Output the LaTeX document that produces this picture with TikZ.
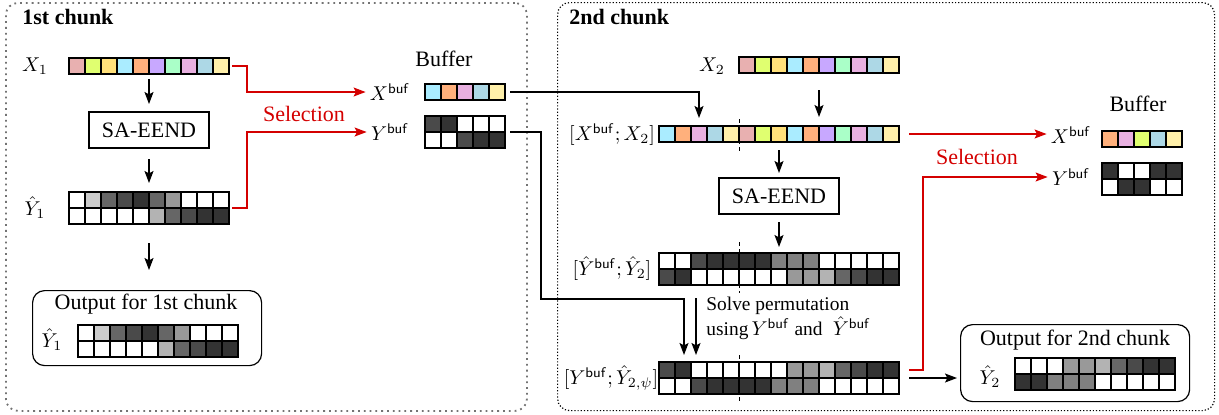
\documentclass[tikz,border=0pt]{standalone}
\usepackage[no-math]{fontspec}
\setmainfont{Liberation Serif}
\usetikzlibrary{arrows.meta,calc}
\definecolor{pk}{HTML}{E8B0B0}
\definecolor{li}{HTML}{E0FF70}
\definecolor{ye}{HTML}{FFE07A}
\definecolor{cy}{HTML}{AAECFF}
\definecolor{or}{HTML}{FFB07C}
\definecolor{pu}{HTML}{C8A8FF}
\definecolor{mi}{HTML}{AAFFC8}
\definecolor{ll}{HTML}{E8B0E0}
\definecolor{lb}{HTML}{ADD8E6}
\definecolor{ly}{HTML}{FFF0AA}
\definecolor{gA}{HTML}{4A4A4A}
\definecolor{gB}{HTML}{333333}
\definecolor{gC}{HTML}{808080}
\definecolor{gD}{HTML}{999999}
\definecolor{gE}{HTML}{B3B3B3}
\definecolor{gF}{HTML}{666666}
\definecolor{gG}{HTML}{CCCCCC}
\definecolor{selred}{HTML}{D40000}
\newcommand\cellrow[3]{\foreach \cellcol [count=\i from 0] in {#3} {\filldraw[cellst, fill=\cellcol] ({#1+16*\i},#2) rectangle ++(16,16);}}
\newcommand\cellstrip[5]{%
  \node[holder, minimum width=#4*8pt, minimum height=8pt, anchor=north west] (#1) at (#2,#3) {};
  \cellrow{#2}{#3}{#5}}
\newcommand\cellmat[6]{%
  \node[holder, minimum width=#4*8pt, minimum height=16pt, anchor=north west] (#1) at (#2,#3) {};
  \cellrow{#2}{#3}{#5}\cellrow{#2}{#3+16}{#6}}
\newcommand\bufsup{\mathsf{buf}}
\begin{document}
\begin{tikzpicture}[x=0.5pt,y=-0.5pt,
  cellst/.style={draw=black,line width=0.6pt},
  holder/.style={inner sep=0pt,outer sep=0pt,draw=none},
  txt/.style={font=\fontsize{11}{13}\selectfont},
  lbl/.style={font=\fontsize{10}{12}\selectfont, inner sep=0pt},
  model/.style={draw, line width=1pt, minimum width=60pt, minimum height=18pt, font=\fontsize{11}{13}\selectfont, inner sep=0pt},
  outbox/.style={draw, rounded corners=6pt, line width=0.6pt, inner sep=0pt},
  conn/.style={line width=0.6pt},
  arr/.style={conn, -{Stealth[length=6pt,width=4.5pt,inset=1.2pt]}},
  selarr/.style={arr, draw=selred},
  sepline/.style={line width=0.5pt, dash pattern=on 2pt off 1.5pt},
  chunkA/.style={draw=black!55, line width=0.9pt, dotted, rounded corners=6pt, inner sep=0pt},
  chunkB/.style={draw=black, line width=0.6pt, densely dotted, rounded corners=6pt, inner sep=0pt},
  title/.style={font=\bfseries\fontsize{11}{13}\selectfont, anchor=west, inner sep=0pt},
]
\useasboundingbox (0,0) rectangle (1219,414);
% chunk frames
\node[chunkA, minimum width=260.5pt, minimum height=204pt, anchor=north west] (ch1) at (5,2) {};
\node[chunkB, minimum width=328.5pt, minimum height=204pt, anchor=north west] (ch2) at (557,2) {};
\node[title] (t1) at (22,17) {1st chunk};
\node[title] (t2) at (569,17) {2nd chunk};

% ---------- 1st chunk ----------
\node[lbl] (x1L) at (35,66) {$X_1$};
\cellstrip{x1}{69}{58}{10}{pk,li,ye,cy,or,pu,mi,ll,lb,ly}
\node[model] (sa1) at (149,130) {SA-EEND};
\node[lbl] (y1L) at (35,208) {$\hat{Y}_1$};
\cellmat{y1}{69}{192}{10}{white,gG,gF,gA,gB,gF,gD,white,white,white}{white,white,white,white,white,gE,gF,gA,gB,gB}
\node[outbox, minimum width=114.5pt, minimum height=37.5pt, anchor=north west] (out1) at (32,290) {};
\node[txt] (out1t) at (146,304) {Output for 1st chunk};
\node[lbl] (o1L) at (52,340) {$\hat{Y}_1$};
\cellmat{o1}{78}{325}{10}{white,gG,gF,gA,gB,gF,gD,white,white,white}{white,white,white,white,white,gE,gF,gA,gB,gB}

\draw[arr, shorten <=2.5pt, shorten >=3.5pt] (x1.south) -- (x1.south |- sa1.north);
\draw[arr, shorten <=5pt, shorten >=4.5pt] (sa1.south) -- (sa1.south |- y1.north);
\draw[arr, shorten <=9.5pt, shorten >=10pt] (y1.south) -- (y1.south |- out1.north);

% buffer 1
\node[txt] (buf1) at (444,59) {Buffer};
\node[lbl] (xbL) at (390,92) {$X^{\bufsup}$};
\node[lbl] (ybL) at (390,132) {$Y^{\bufsup}$};
\cellstrip{xb1}{425}{84}{5}{cy,or,ll,lb,ly}
\cellmat{yb1}{425}{116}{5}{gA,gB,white,white,white}{white,white,gA,gB,gB}
\node[txt, text=selred] (sel1) at (304,114) {Selection};
\draw[selarr, shorten >=2pt] ([xshift=1.5pt]x1.east) -- ++(15,0) |- (xbL.west);
\draw[selarr, shorten >=2pt] ([xshift=1.5pt]y1.east) -- ++(15,0) |- (ybL.west);

% ---------- 2nd chunk ----------
\node[lbl] (x2L) at (712,66) {$X_2$};
\cellstrip{x2}{739}{57}{10}{pk,li,ye,cy,or,pu,mi,ll,lb,ly}
\node[lbl] (xxL) at (612,135) {$[X^{\bufsup};X_2]$};
\cellstrip{xx2}{659}{126}{15}{cy,or,ll,lb,ly,pk,li,ye,cy,or,pu,mi,ll,lb,ly}
\node[model] (sa2) at (779,196) {SA-EEND};
\node[lbl] (yhL) at (612,269) {$[\hat{Y}^{\bufsup};\hat{Y}_2]$};
\cellmat{yh2}{659}{253}{15}{white,white,gA,gB,gB,gB,gB,gC,gC,gC,white,white,white,white,white}{gA,gB,white,white,white,white,white,white,gD,gD,gE,gF,gA,gB,gB}
\node[lbl] (ypL) at (611,378) {$[Y^{\bufsup};\hat{Y}_{2,\psi}]$};
\cellmat{yp}{659}{362}{15}{gA,gB,white,white,white,white,white,white,gD,gD,gE,gF,gA,gB,gB}{white,white,gA,gB,gB,gB,gB,gC,gC,gC,white,white,white,white,white}
\node[font=\fontsize{9.7}{11.5}\selectfont, align=left, anchor=north west, inner sep=0pt] (solve) at (706,297) {Solve permutation\\using\,$Y^{\bufsup}$ and \;$\hat{Y}^{\bufsup}$};

\draw[sepline] ($(xx2.north west)+(80,-7)$) -- ($(xx2.south west)+(80,12)$);
\draw[sepline] ($(yh2.north west)+(80,-11)$) -- ($(yh2.south west)+(80,8)$);
\draw[sepline] ($(yp.north west)+(80,-7)$) -- ($(yp.south west)+(80,9)$);

\draw[arr, shorten <=8.5pt, shorten >=4.5pt] (x2.south) -- (x2.south |- xx2.north);
\draw[arr, shorten <=4pt, shorten >=2pt] (xx2.south) -- (xx2.south |- sa2.north);
\draw[arr, shorten <=3.5pt, shorten >=3pt] (sa2.south) -- (sa2.south |- yh2.north);

% buffer to 2nd chunk
\draw[arr] ([xshift=2.5pt]xb1.east) -| ($(xx2.north west)+(40,-8)$);
\draw[arr] ([xshift=2.5pt]yb1.east) -| ($(yp.north west)+(-118,-63)$) -| ($(yp.north west)+(25,-7)$);
\draw[arr] ($(yh2.south west)+(37,13)$) -- ($(yp.north west)+(37,-7)$);

% buffer 2
\node[txt] (buf2) at (1138,104) {Buffer};
\node[lbl] (xbR) at (1071,135) {$X^{\bufsup}$};
\node[lbl] (ybR) at (1071,177) {$Y^{\bufsup}$};
\cellstrip{xb2}{1102}{131}{5}{or,ll,li,lb,ly}
\cellmat{yb2}{1102}{163}{5}{gB,white,white,gB,gB}{white,gB,gB,white,white}
\node[txt, text=selred] (sel2) at (977,157) {Selection};
\draw[selarr, shorten >=2pt] ([xshift=5pt]xx2.east) -- (xx2.east -| xbR.west);
\draw[selarr, shorten >=2pt] ($(yp.north east)+(10,8)$) -- ++(14,0) |- (ybR.west);

% output 2
\node[outbox, minimum width=114.5pt, minimum height=38.5pt, anchor=north west] (out2) at (960,324) {};
\node[txt] (out2t) at (1075,340) {Output for 2nd chunk};
\node[lbl] (o2L) at (990,377) {$\hat{Y}_2$};
\cellmat{o2}{1015}{358}{10}{white,white,white,gD,gD,gE,gF,gA,gB,gB}{gB,gB,gC,gC,gC,white,white,white,white,white}
\draw[arr, shorten >=1.5pt] ([xshift=5pt]yp.east) -- (yp.east -| out2.west);
\end{tikzpicture}
\end{document}
